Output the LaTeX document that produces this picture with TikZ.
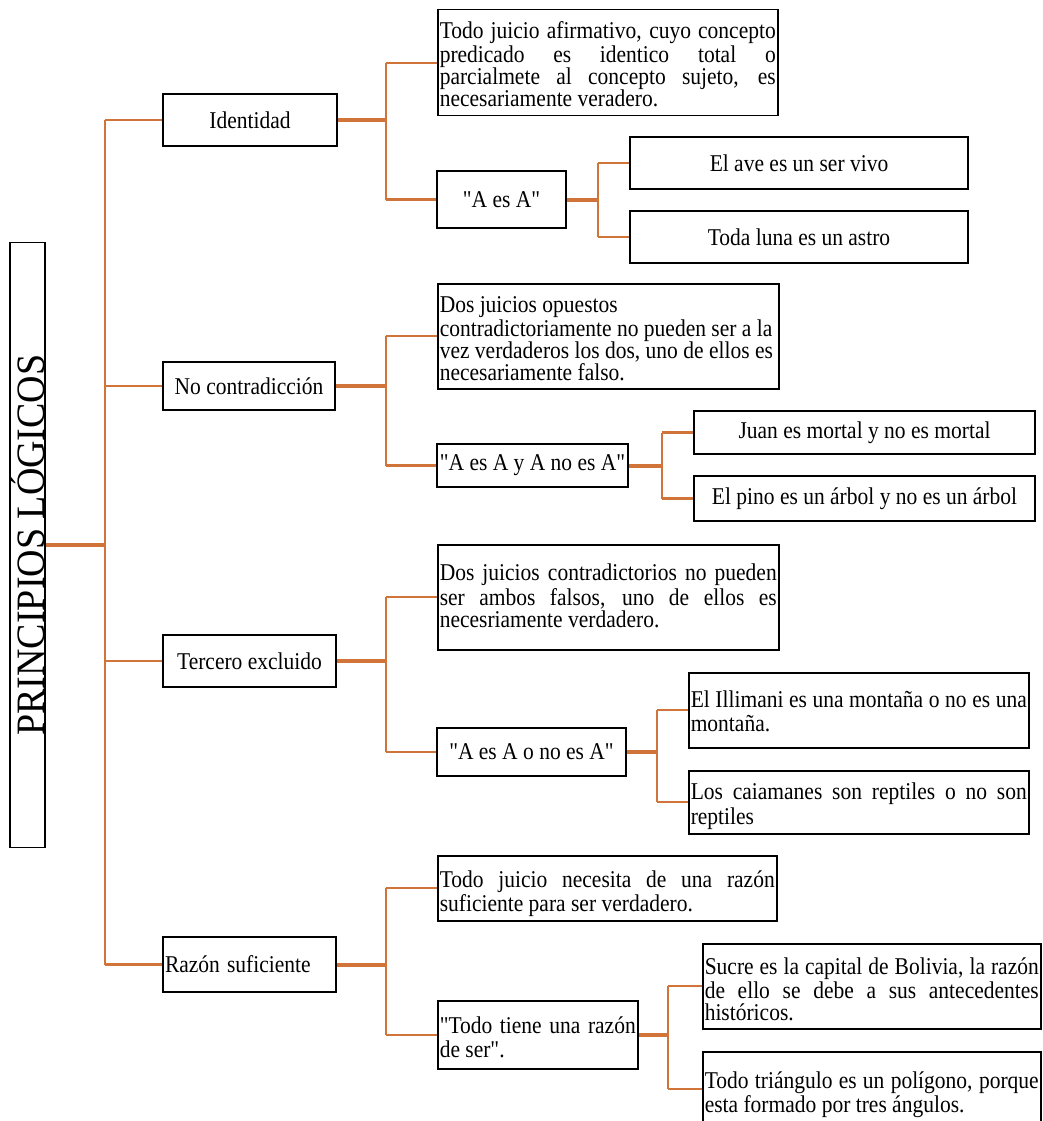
\documentclass[tikz,border=0pt]{standalone}
\usepackage{graphicx}
\usepackage{fontspec}
\setmainfont{Liberation Serif}[Ligatures=TeXOff]
\definecolor{ln}{RGB}{208,116,58}
\newcommand\fs{\fontsize{21.5}{19.64}\selectfont}
\newcommand\s[1]{\scalebox{1}[1.12]{#1}}
% width, height, first-baseline distance from top, text
\newcommand\tb[4]{\scalebox{1}[1.12]{\parbox[c][\dimexpr(#2pt-5pt)*100/112\relax][t]{\dimexpr#1pt-4pt\relax}{\vspace*{\dimexpr(#3pt-18pt)*100/112\relax}\strut #4}}}
\tikzset{
  box/.style={draw=black, line width=1.5pt, inner sep=2pt, font=\fs},
  tbox/.style={box, anchor=north west, inner xsep=2pt, inner ysep=2.5pt},
  con/.style={draw=ln, line width=2.4pt},
  thk/.style={draw=ln, line width=4pt},
}
\begin{document}
\begin{tikzpicture}[x=1pt,y=-1pt]
\useasboundingbox (0,0) rectangle (1042,1121);
% root
\node[box, rotate=90, minimum width=605, minimum height=35, inner sep=0pt,
      font=\fontsize{38}{40}\selectfont] (root) at (27.5,545) {\scalebox{1}[1.06]{PRINCIPIOS LÓGICOS}};
% level 1
\node[box, minimum width=174, minimum height=52] (id) at (250,120) {\s{Identidad}};
\node[box, minimum width=172, minimum height=48] (nc) at (249,386) {\s{No contradicción}};
\node[box, minimum width=173, minimum height=52] (te) at (249.5,661) {\s{Tercero excluido}};
\node[box, minimum width=173, minimum height=55, text width=169, align=left] (rs) at (249.5,964.5) {\s{Razón suficiente}};
% Identidad
\node[tbox] (d1) at (437,9) {\tb{340}{106}{27}{Todo juicio afirmativo, cuyo concepto\linebreak predicado es identico total o\linebreak parcialmete al concepto sujeto, es\linebreak necesariamente veradero.}};
\node[box, minimum width=129, minimum height=57] (a1) at (501.5,199.5) {\s{"A es A"}};
\node[box, minimum width=338, minimum height=52] (e1) at (799,163) {\s{El ave es un ser vivo}};
\node[box, minimum width=338, minimum height=52] (e2) at (799,237) {\s{Toda luna es un astro}};
% No contradiccion
\node[tbox] (d2) at (437,283) {\tb{341}{105}{28}{Dos juicios opuestos\newline contradictoriamente no pueden ser a la\newline vez verdaderos los dos, uno de ellos es\newline necesariamente falso.}};
\node[box, minimum width=191, minimum height=43, inner sep=1pt] (a2) at (532.5,465.5) {\s{"A es A y A no es A"}};
\node[box, minimum width=341, minimum height=43] (e3) at (864.5,432.5) {\s{Juan es mortal y no es mortal}};
\node[box, minimum width=341, minimum height=45] (e4) at (864.5,498.5) {\s{El pino es un árbol y no es un árbol}};
% Tercero excluido
\node[tbox] (d3) at (437,544) {\tb{341}{105}{35}{Dos juicios contradictorios no pueden\linebreak ser ambos falsos, uno de ellos es\linebreak necesriamente verdadero.}};
\node[box, minimum width=189, minimum height=48] (a3) at (531.5,752) {\s{"A es A o no es A"}};
\node[tbox] (e5) at (688,672) {\tb{340}{75}{34}{El Illimani es una montaña o no es una\linebreak montaña.}};
\node[tbox] (e6) at (688,770) {\tb{340}{63}{28}{Los caiamanes son reptiles o no son\linebreak reptiles}};
% Razon suficiente
\node[tbox] (d4) at (437,855) {\tb{339}{65}{30}{Todo juicio necesita de una razón\linebreak suficiente para ser verdadero.}};
\node[tbox] (a4) at (437,1000) {\tb{200}{68}{31}{"Todo tiene una razón\linebreak de ser".}};
\node[tbox] (e7) at (702,943) {\tb{338}{85}{29}{Sucre es la capital de Bolivia, la razón\linebreak de ello se debe a sus antecedentes\linebreak históricos.}};
\node[tbox] (e8) at (702,1051) {\tb{338}{74}{35}{Todo triángulo es un polígono, porque\linebreak esta formado por tres ángulos.}};
% connectors
\coordinate (T) at (105,0);
\coordinate (U) at (386,0);
\draw[thk] (root.south) -- (T |- root.south);
\draw[con] (T |- id.west) -- (T |- rs.west);
\foreach \n in {id,nc,te,rs} \draw[con] (T |- \n.west) -- (\n.west);
% identidad
\draw[thk] (id.east) -- (U |- id.east);
\draw[con] (U |- d1.west) -- (U |- a1.west);
\draw[con] (U |- d1.west) -- (d1.west);
\draw[con] (U |- a1.west) -- (a1.west);
\coordinate (V1) at (598,0);
\draw[thk] (a1.east) -- (V1 |- a1.east);
\draw[con] (V1 |- e1.west) -- (V1 |- e2.west);
\draw[con] (V1 |- e1.west) -- (e1.west);
\draw[con] (V1 |- e2.west) -- (e2.west);
% no contradiccion
\draw[thk] (nc.east) -- (U |- nc.east);
\draw[con] (U |- d2.west) -- (U |- a2.west);
\draw[con] (U |- d2.west) -- (d2.west);
\draw[con] (U |- a2.west) -- (a2.west);
\coordinate (V2) at (662,0);
\draw[thk] (a2.east) -- (V2 |- a2.east);
\draw[con] (V2 |- e3.west) -- (V2 |- e4.west);
\draw[con] (V2 |- e3.west) -- (e3.west);
\draw[con] (V2 |- e4.west) -- (e4.west);
% tercero
\draw[thk] (te.east) -- (U |- te.east);
\draw[con] (U |- d3.west) -- (U |- a3.west);
\draw[con] (U |- d3.west) -- (d3.west);
\draw[con] (U |- a3.west) -- (a3.west);
\coordinate (V3) at (657,0);
\draw[thk] (a3.east) -- (V3 |- a3.east);
\draw[con] (V3 |- e5.west) -- (V3 |- e6.west);
\draw[con] (V3 |- e5.west) -- (e5.west);
\draw[con] (V3 |- e6.west) -- (e6.west);
% razon
\draw[thk] (rs.east) -- (U |- rs.east);
\draw[con] (U |- d4.west) -- (U |- a4.west);
\draw[con] (U |- d4.west) -- (d4.west);
\draw[con] (U |- a4.west) -- (a4.west);
\coordinate (V4) at (668,0);
\draw[thk] (a4.east) -- (V4 |- a4.east);
\draw[con] (V4 |- e7.west) -- (V4 |- e8.west);
\draw[con] (V4 |- e7.west) -- (e7.west);
\draw[con] (V4 |- e8.west) -- (e8.west);
\end{tikzpicture}
\end{document}
